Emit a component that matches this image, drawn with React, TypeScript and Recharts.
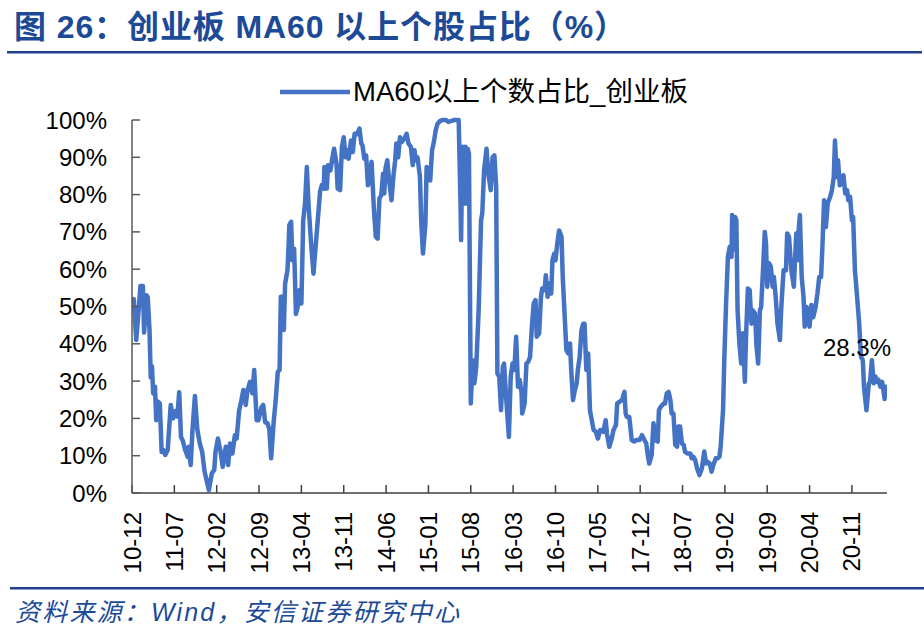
import React from 'react';
import { LineChart, Line, XAxis, YAxis, LabelList } from 'recharts';

const titleText = '图 26：创业板 MA60 以上个股占比（%）';
const seriesName = 'MA60以上个数占比_创业板';
const sourceText = '资料来源：Wind，安信证券研究中心';

const xTickLabels = ['10-12', '11-07', '12-02', '12-09', '13-04', '13-11', '14-06', '15-01', '15-08', '16-03', '16-10', '17-05', '17-12', '18-07', '19-02', '19-09', '20-04', '20-11'];
const yTicks = [0, 10, 20, 30, 40, 50, 60, 70, 80, 90, 100];

// [months since 2010-12, % of stocks above MA60]
const seg2011: [number, number][] = [
  [0.0, 51.5], [0.3, 52], [0.7, 41], [1.0, 47], [1.4, 55.5], [1.8, 55.5], [2.0, 43], [2.4, 53], [2.6, 52.5], [2.9, 43.5],
  [3.1, 31], [3.3, 34], [3.5, 26.7], [3.8, 28.5], [4.0, 19.5], [4.3, 24.5], [4.6, 24], [4.9, 11], [5.2, 11.5], [5.5, 10.2],
  [5.9, 11.5], [6.4, 23.6], [6.8, 20], [7.2, 22], [7.5, 20.5], [7.8, 27], [8.1, 15], [8.4, 14], [8.8, 11.5], [9.2, 9.7],
  [9.4, 12.4], [9.7, 7.5], [10.0, 17], [10.4, 26], [10.8, 17], [11.2, 13.3], [11.6, 11], [12.0, 5.7], [12.7, 0.8],
];
const seg2012: [number, number][] = [
  [13.2, 5.3], [13.6, 6.2], [13.8, 11], [14.2, 14.6], [14.6, 11.5], [15.0, 7], [15.5, 12.4], [15.9, 7.5], [16.2, 13.3],
  [16.6, 10.6], [17.0, 15.5], [17.3, 14.6], [17.7, 22], [18.1, 25], [18.4, 27.6], [18.8, 23.6], [19.1, 27.6], [19.5, 29.8],
  [19.9, 26.7], [20.2, 33], [20.6, 19.5], [20.9, 19.5], [21.4, 23], [21.7, 23.6], [22.0, 19], [22.4, 18.7], [22.7, 17],
  [23.0, 9.3], [23.4, 18.7], [23.8, 25.8], [24.1, 32.5], [24.4, 33], [24.6, 52.6], [24.9, 52.6],
];
const seg2013: [number, number][] = [
  [25.1, 43.7], [25.3, 56], [25.7, 59.7], [25.9, 67], [26.0, 71.8], [26.3, 72.7], [26.5, 62.4], [26.8, 65.5], [27.1, 48],
  [27.4, 50], [27.7, 54.4], [28.0, 50.8], [28.3, 73], [28.6, 77.6], [28.9, 87.4], [29.2, 76.7], [29.6, 67], [30.0, 58.8],
  [30.3, 65], [30.7, 73], [31.1, 81], [31.4, 82.6], [31.7, 81.6], [31.8, 87.4], [32.2, 81.6], [32.4, 87.9], [32.8, 86.5],
  [33.1, 89.6], [33.4, 92.3], [33.8, 88.3], [34.0, 81.6], [34.4, 81.2], [34.7, 92.8], [35.0, 95.4], [35.3, 90], [35.6, 91.9],
  [35.8, 89.6], [36.2, 94.5], [36.5, 91.4], [36.8, 96.3],
];
const seg2014: [number, number][] = [
  [37.2, 96.2], [37.6, 97.7], [37.9, 93.7], [38.1, 93.2], [38.4, 89.6], [38.7, 90.5], [39.0, 82.5], [39.3, 84.7], [39.6, 88.8],
  [40.0, 75.8], [40.3, 68.7], [40.6, 68.2], [40.9, 79], [41.2, 79.8], [41.5, 85.6], [41.7, 80.3], [41.9, 87], [42.2, 89.2],
  [42.5, 83.8], [42.9, 78.5], [43.2, 84.7], [43.5, 89.2], [43.7, 93.7], [44.0, 90], [44.3, 95.4], [44.6, 94.1], [45.0, 95],
  [45.4, 96.3], [45.7, 93.7], [46.1, 92.8], [46.4, 87.9], [46.7, 91.9], [46.9, 89.2], [47.2, 90], [47.6, 84.7], [47.8, 73.1],
  [48.1, 64.2], [48.5, 72.2], [48.7, 87.4],
];
const seg2015: [number, number][] = [
  [49.0, 87], [49.3, 83.8], [49.6, 91.9], [49.9, 94.1], [50.2, 97.2], [50.5, 99], [50.9, 99.7], [51.3, 100], [51.9, 100],
  [52.3, 99.5], [52.7, 99.7], [53.3, 100], [54.0, 100], [54.3, 77.6], [54.4, 67.8], [54.6, 92.8], [54.9, 77.6], [55.1, 92.8],
  [55.3, 77.6], [55.5, 92.3], [55.7, 91], [56.0, 24], [56.3, 35.6], [56.6, 29.4], [56.9, 33.8], [57.3, 49], [57.7, 73.1],
  [57.9, 75], [58.2, 86.5], [58.6, 92.3], [58.9, 85.6], [59.3, 81.2], [59.6, 90], [59.9, 90.5], [60.2, 82], [60.4, 32],
  [60.7, 31.2],
];
const seg2016: [number, number][] = [
  [61.0, 22.2], [61.3, 33.8], [61.5, 34.7], [61.8, 26.7], [62.3, 15], [62.6, 31.2], [62.9, 34.7], [63.2, 33], [63.5, 41.9],
  [63.8, 28.5], [64.1, 30.3], [64.4, 26.7], [64.5, 21.3], [64.9, 24], [65.2, 34.7], [65.5, 35.2], [65.8, 36.5], [66.1, 44.6],
  [66.4, 50.8], [66.7, 51.7], [66.9, 41.9], [67.3, 42.8], [67.6, 52.6], [67.8, 54.8], [68.2, 54.4], [68.4, 58.4], [68.7, 52.6],
  [68.9, 56.2], [69.3, 53.5], [69.5, 62.4], [69.8, 64.2], [70.0, 62.4], [70.3, 66.9], [70.6, 70.4], [71.0, 68.7], [71.2, 57.9],
  [71.5, 48.1], [71.8, 38.3], [72.1, 37.4], [72.4, 40.1], [72.6, 33], [72.9, 24.9],
];
const seg2017: [number, number][] = [
  [73.2, 27.6], [73.5, 29.4], [73.7, 33], [74.0, 36.5], [74.3, 43.7], [74.6, 45.4], [74.8, 45.4], [75.1, 33], [75.4, 37.4],
  [75.7, 22.2], [75.9, 20.4], [76.3, 16.9], [76.7, 16.4], [77.0, 14.6], [77.4, 16.9], [77.9, 16.4], [78.3, 19.5], [78.5, 16],
  [78.9, 12.4], [79.3, 14.6], [79.6, 16.9], [80.0, 18.2], [80.2, 24], [80.6, 24.5], [81.0, 24.9], [81.4, 27.1], [81.6, 21.3],
  [81.8, 20.4], [82.2, 20.4], [82.6, 14.2], [83.0, 13.8], [83.4, 14.2], [83.9, 14.2], [84.3, 15.5], [84.7, 14.2],
];
const seg2018: [number, number][] = [
  [85.0, 13.3], [85.3, 9.7], [85.5, 7.9], [85.9, 10.2], [86.2, 18.7], [86.5, 14.2], [86.9, 13.8], [87.1, 22.2], [87.4, 23.1],
  [87.9, 24], [88.1, 24], [88.4, 26.7], [88.7, 27.1], [89.0, 24.9], [89.2, 21.3], [89.5, 21.3], [89.8, 12.9], [90.1, 12.4],
  [90.3, 17.8], [90.6, 17.8], [90.9, 13.3], [91.2, 12.9], [91.4, 11.1], [91.8, 10.6], [92.3, 10.6], [92.5, 9.3], [92.8, 9.7],
  [93.1, 8.8], [93.4, 6.6], [93.8, 4.8], [94.2, 6.6], [94.6, 11.1], [94.9, 7.9], [95.1, 8.4], [95.5, 7.9], [95.8, 5.7],
  [96.1, 7.5], [96.5, 9.3], [96.8, 9.3],
];
const seg2019: [number, number][] = [
  [97.1, 9.7], [97.3, 12.4], [97.7, 22.2], [97.9, 35.6], [98.2, 50.8], [98.5, 63.3], [98.8, 66], [99.1, 63.3], [99.2, 74.5],
  [99.4, 65.2], [99.7, 74], [99.9, 73.1], [100.1, 49], [100.4, 40.1], [100.7, 34.7], [101.0, 42.8], [101.3, 29.8], [101.5, 41.9],
  [101.8, 54.8], [102.1, 54.4], [102.4, 45.4], [102.6, 49], [103.0, 48.1], [103.2, 40.1], [103.5, 34.7], [103.8, 49],
  [104.0, 49.9], [104.3, 59.7], [104.6, 70], [104.8, 66.9], [105.0, 55.3], [105.3, 61.6], [105.6, 60.7], [105.9, 55.3],
  [106.1, 57.9], [106.4, 52.6], [106.7, 45.4], [107.1, 41], [107.3, 49], [107.7, 59.7], [108.1, 59.7], [108.3, 69.6],
  [108.6, 68.7],
];
const seg2020: [number, number][] = [
  [109.0, 59.7], [109.4, 55.3], [109.8, 69.6], [110.0, 62.4], [110.2, 70.5], [110.4, 74.5], [110.7, 57.9], [111.0, 52.6],
  [111.2, 44.6], [111.5, 49.9], [111.8, 47.1], [112.0, 44.6], [112.3, 50.4], [112.6, 47.1], [113.0, 49.9], [113.3, 53.5],
  [113.6, 57.9], [113.9, 57.9], [114.1, 65.1], [114.4, 78.5], [114.7, 71.3], [115.0, 77.6], [115.4, 79.4], [115.7, 81.2],
  [116.0, 84.7], [116.2, 94.5], [116.5, 84.7], [116.7, 89.2], [117.0, 82.5], [117.3, 83], [117.6, 85.2], [117.9, 80.3],
  [118.2, 81.2], [118.4, 78.5], [118.7, 79.4], [119.0, 73.1], [119.2, 74], [119.5, 59.7], [119.9, 51.7], [120.2, 45.4],
];
const seg2021: [number, number][] = [
  [120.5, 36.5], [120.8, 35.6], [121.0, 28.5], [121.4, 22.2], [121.8, 29.4], [122.0, 29.8], [122.3, 35.6], [122.6, 29.4],
  [122.9, 31.2], [123.1, 29.8], [123.4, 30.3], [123.7, 28.5], [124.0, 29.8], [124.2, 27.6], [124.4, 25.2], [124.6, 28.5],
  [124.8, 28.3],
];

const data = [
  ...seg2011, ...seg2012, ...seg2013, ...seg2014, ...seg2015,
  ...seg2016, ...seg2017, ...seg2018, ...seg2019, ...seg2020, ...seg2021,
].map(([t, v]) => ({ t, v }));

const lastIndex = data.length - 1;
const lastT = data[lastIndex].t;

const labelToMonth = (s: string) => {
  const [yy, mm] = s.split('-').map(Number);
  return (yy - 10) * 12 + mm - 12;
};
const xTicks = xTickLabels.map(labelToMonth);

const BLUE_LINE = '#4472C4';
const TITLE_BLUE = '#1C4A97';
const RULE_BLUE = '#1F3F8F';
const FONT = '"Liberation Sans", Arial, "Noto Sans CJK SC", sans-serif';

const XTick = (props: any) => {
  const { x, y, payload } = props;
  const idx = xTicks.indexOf(payload.value);
  const label = idx >= 0 ? xTickLabels[idx] : '';
  return (
    <text
      x={x}
      y={y}
      transform={`rotate(-90 ${x} ${y})`}
      textAnchor="end"
      dominantBaseline="central"
      fontSize={24}
      fontFamily={FONT}
      fill="#000"
    >
      {label}
    </text>
  );
};

const LastLabel = (props: any) => {
  const { x, y, index, value } = props;
  if (index !== lastIndex) return null;
  return (
    <text x={x + 4} y={y - 31} textAnchor="end" fontSize={24} fontFamily={FONT} fill="#000">
      {`${Number(value).toFixed(1)}%`}
    </text>
  );
};

export default function App() {
  return (
    <div style={{ position: 'absolute', left: 0, top: 0, width: 924, height: 630, background: '#fff' }}>
      <LineChart
        width={924}
        height={630}
        data={data}
        margin={{ top: 120, right: 37, bottom: 0, left: 0 }}
      >
        <XAxis
          dataKey="t"
          type="number"
          domain={[0, lastT]}
          ticks={xTicks}
          interval={0}
          height={137}
          tick={<XTick />}
          tickSize={-8}
          tickMargin={27}
          axisLine={{ stroke: '#404040', strokeWidth: 1.5 }}
          tickLine={{ stroke: '#404040', strokeWidth: 1.5 }}
          allowDataOverflow
        />
        <YAxis
          type="number"
          domain={[0, 100]}
          ticks={yTicks}
          interval={0}
          width={132}
          tickFormatter={(v: number) => `${v}%`}
          tick={{ fontSize: 24, fill: '#000', fontFamily: FONT }}
          tickSize={-8}
          tickMargin={33}
          axisLine={{ stroke: '#595959', strokeWidth: 1.5 }}
          tickLine={{ stroke: '#595959', strokeWidth: 1.5 }}
        />
        <Line
          type="linear"
          dataKey="v"
          name={seriesName}
          stroke={BLUE_LINE}
          strokeWidth={4.5}
          strokeLinejoin="round"
          dot={false}
          activeDot={false}
          isAnimationActive={false}
        >
          <LabelList dataKey="v" content={<LastLabel />} />
        </Line>
      </LineChart>
      <svg
        width={924}
        height={630}
        style={{ position: 'absolute', left: 0, top: 0, pointerEvents: 'none' }}
      >
        <text
          x={14}
          y={38}
          fontSize={32}
          fontWeight="bold"
          fontFamily={FONT}
          fill={TITLE_BLUE}
          textLength={612}
          lengthAdjust="spacing"
        >
          {titleText}
        </text>
        <rect x={7} y={51} width={915} height={2.5} fill={RULE_BLUE} />
        <line x1={280} y1={92} x2={350} y2={92} stroke={BLUE_LINE} strokeWidth={4.5} />
        <text
          x={353}
          y={101}
          fontSize={27}
          fontFamily={FONT}
          fill="#000"
          textLength={335}
          lengthAdjust="spacingAndGlyphs"
        >
          {seriesName}
        </text>
        <rect x={10} y={587} width={914} height={2.5} fill={RULE_BLUE} />
        <text
          x={15}
          y={621}
          fontSize={25}
          fontStyle="italic"
          fontFamily={FONT}
          fill={TITLE_BLUE}
          textLength={444}
          lengthAdjust="spacing"
        >
          {sourceText}
        </text>
      </svg>
    </div>
  );
}
